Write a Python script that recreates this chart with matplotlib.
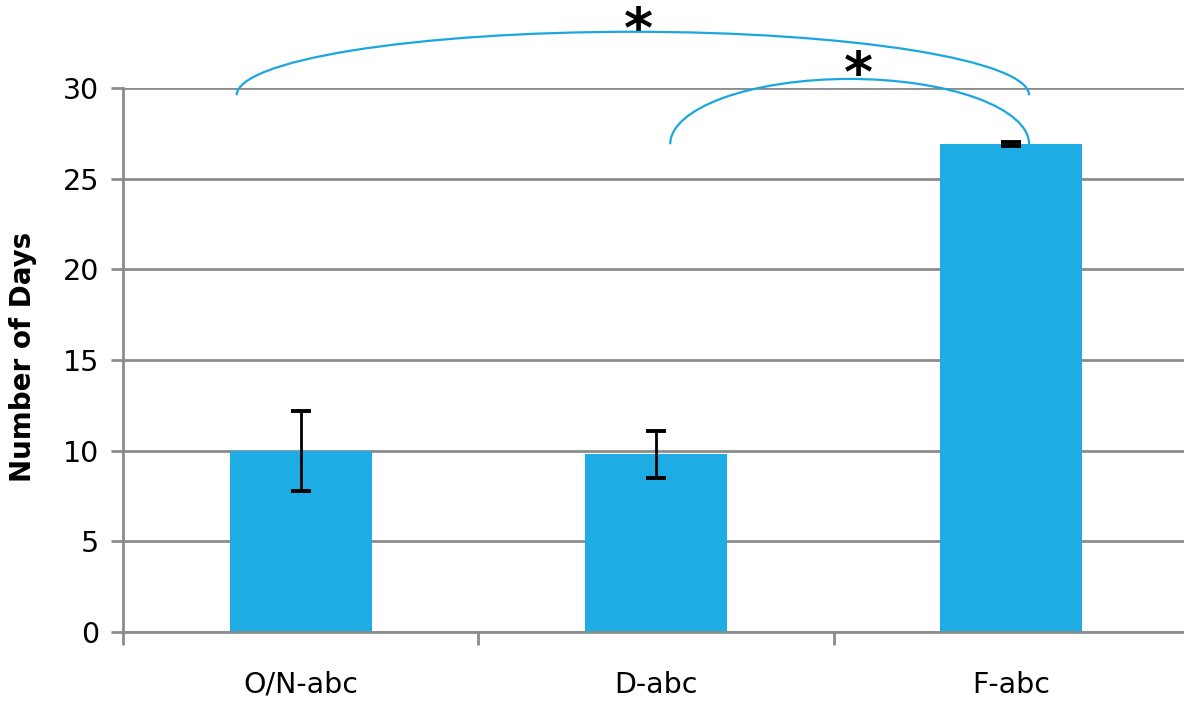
import matplotlib.pyplot as plt
from matplotlib.patches import Arc
from matplotlib.ticker import FixedLocator

# groups, mean days and error bars
groups = ["O/N-abc", "D-abc", "F-abc"]
days = [10.0, 9.8, 26.9]
errors = [2.2, 1.3, 0.1]
y_ticks = [0, 5, 10, 15, 20, 25, 30]

# significance brackets: (left x, right x, base y, top y) in data units, star position
brackets = [(-0.18, 2.05, 29.6, 33.1), (1.04, 2.05, 26.9, 30.5)]
stars = [(0.95, 33.1), (1.57, 30.65)]

bar_color = "#1DACE3"
grid_color = "#8C8C8C"

fig = plt.figure(figsize=(11.84, 7.02), dpi=100)
ax = fig.add_axes([123 / 1184, 70 / 702, 1066 / 1184, 544 / 702])

x = list(range(len(groups)))
ax.bar(x, days, width=0.4, color=bar_color, zorder=2)
ax.errorbar(x, days, yerr=errors, fmt="none", ecolor="black", elinewidth=2.0,
            capsize=7, capthick=2.8, zorder=3)

ax.set_xlim(-0.5, 2.5)
ax.set_ylim(0, 30)
ax.set_yticks(y_ticks)
ax.yaxis.grid(True, color=grid_color, linewidth=2.0, zorder=0)
ax.set_axisbelow(True)

ax.set_xticks(x)
ax.set_xticklabels(groups)
ax.xaxis.set_minor_locator(FixedLocator([-0.5, 0.5, 1.5, 2.5]))
ax.tick_params(axis="x", which="major", length=0, pad=28, labelsize=20.5)
ax.tick_params(axis="x", which="minor", length=9, width=2.0, color=grid_color)
ax.tick_params(axis="y", length=9, width=2.0, color=grid_color, labelsize=20.5, pad=8)

for side in ["top", "right"]:
    ax.spines[side].set_visible(False)
for side in ["left", "bottom"]:
    ax.spines[side].set_color(grid_color)
    ax.spines[side].set_linewidth(2.0)

ax.set_ylabel("Number of Days", fontsize=20, fontweight="bold", va="center")
ax.yaxis.set_label_coords(-0.094, 0.505)

for (x0, x1, yb, yt), (sx, sy) in zip(brackets, stars):
    arc = Arc(((x0 + x1) / 2, yb), x1 - x0, 2 * (yt - yb), theta1=0, theta2=180,
              color="#1AA7DF", linewidth=1.6, clip_on=False, zorder=4)
    ax.add_patch(arc)
    ax.text(sx, sy, "*", fontsize=40, fontweight="bold", ha="center", va="center",
            clip_on=False)

fig.savefig("out.png", dpi=100)
